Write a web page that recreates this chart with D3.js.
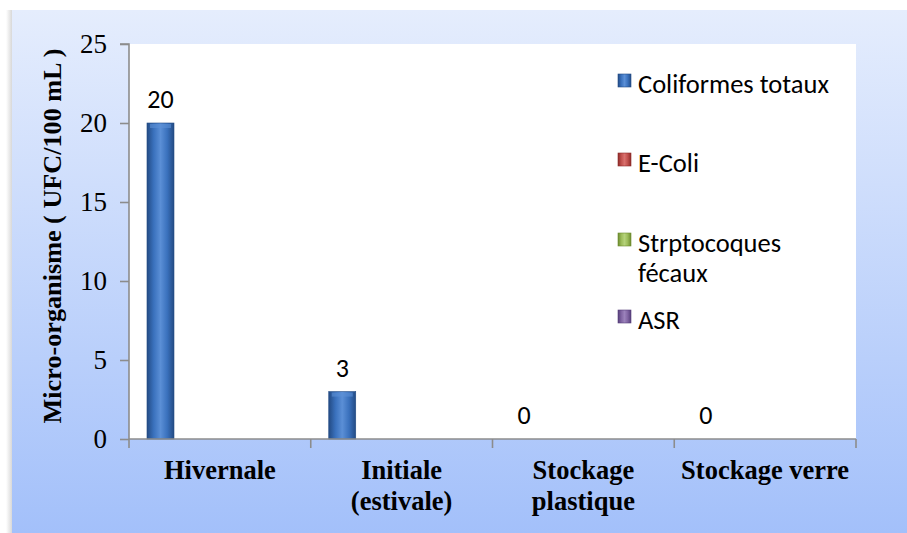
<!DOCTYPE html>
<html><head><meta charset="utf-8">
<script src="https://cdn.jsdelivr.net/npm/d3@7"></script>
<style>
html,body{margin:0;padding:0;background:#fff;}
svg{display:block;}
</style></head>
<body><svg id="c" width="907" height="533"></svg>
<script>
const categories = [["Hivernale"], ["Initiale", "(estivale)"], ["Stockage", "plastique"], ["Stockage verre"]];
const seriesNames = ["Coliformes totaux", "E-Coli", "Strptocoques fécaux", "ASR"];
const legendLines = [["Coliformes totaux"], ["E-Coli"], ["Strptocoques", "fécaux"], ["ASR"]];
const coliformes = [20, 3, 0, 0];
const eColi = [0, 0, 0, 0];
const streptocoques = [0, 0, 0, 0];
const asr = [0, 0, 0, 0];
const yTicks = [0, 5, 10, 15, 20, 25];
const yTitle = "Micro-organisme ( UFC/100 mL )";
const seriesValues = [coliformes, eColi, streptocoques, asr];
const colors = [
  {dark:"#234b84", mid:"#3a71bd", light:"#5b8fd6"},
  {dark:"#8c2b28", mid:"#c0504d", light:"#d9706d"},
  {dark:"#6b8a2e", mid:"#9bbb59", light:"#b5d27a"},
  {dark:"#563f7a", mid:"#8064a2", light:"#9b82bb"}
];

const svg = d3.select("#c");
const defs = svg.append("defs");

const bg = defs.append("linearGradient").attr("id","bg").attr("x1",0).attr("y1",0).attr("x2",0).attr("y2",1);
bg.append("stop").attr("offset","0%").attr("stop-color","#e5edfd");
bg.append("stop").attr("offset","100%").attr("stop-color","#a3c0fa");
const sh = defs.append("linearGradient").attr("id","sh").attr("x1",0).attr("y1",0).attr("x2",1).attr("y2",0);
sh.append("stop").attr("offset","0%").attr("stop-color","#ffffff");
sh.append("stop").attr("offset","100%").attr("stop-color","#d8d8d8");

colors.forEach((c,i)=>{
  const g = defs.append("linearGradient").attr("id","bar"+i).attr("x1",0).attr("y1",0).attr("x2",1).attr("y2",0);
  g.append("stop").attr("offset","0%").attr("stop-color",c.dark);
  g.append("stop").attr("offset","25%").attr("stop-color",c.mid);
  g.append("stop").attr("offset","50%").attr("stop-color",c.light);
  g.append("stop").attr("offset","75%").attr("stop-color",c.mid);
  g.append("stop").attr("offset","100%").attr("stop-color",c.dark);
});

svg.append("rect").attr("x",6).attr("y",10).attr("width",6).attr("height",523).attr("fill","url(#sh)");
svg.append("rect").attr("x",12).attr("y",10).attr("width",895).attr("height",523).attr("fill","url(#bg)");

const plot = {left:129, top:44, right:856, bottom:439};
svg.append("rect").attr("x",plot.left).attr("y",plot.top)
  .attr("width",plot.right-plot.left).attr("height",plot.bottom-plot.top).attr("fill","#fff");

const x0 = d3.scaleBand().domain(d3.range(categories.length)).range([plot.left, plot.right]).padding(0);
const x1 = d3.scaleBand().domain(d3.range(seriesNames.length)).range([0, x0.bandwidth()])
  .paddingInner(0.318).paddingOuter(0.4545);
const y = d3.scaleLinear().domain([0,25]).range([plot.bottom, plot.top]);

seriesValues.forEach((vals, s)=>{
  const pos = vals.map((d,i)=>({d,i})).filter(o=>o.d>0);
  svg.append("g").selectAll("rect").data(pos).join("rect")
    .attr("x",o=>x0(o.i)+x1(s))
    .attr("y",o=>y(o.d))
    .attr("width",x1.bandwidth())
    .attr("height",o=>plot.bottom-y(o.d))
    .attr("fill","url(#bar"+s+")")
    .attr("stroke",colors[s].dark).attr("stroke-width",0.6);
  svg.append("g").selectAll("rect").data(pos).join("rect")
    .attr("x",o=>x0(o.i)+x1(s)+3)
    .attr("y",o=>y(o.d)+1)
    .attr("width",x1.bandwidth()-6)
    .attr("height",4)
    .attr("fill",colors[s].light).attr("opacity",0.6);
});

svg.append("g").selectAll("text").data(coliformes).join("text")
  .attr("x",(d,i)=>x0(i)+x1(0)+x1.bandwidth()/2)
  .attr("y",d=>y(d)-15)
  .attr("text-anchor","middle")
  .attr("font-family","Carlito, Lato, sans-serif")
  .attr("font-size",26)
  .attr("fill","#000")
  .text(d=>d);

const yAxis = svg.append("g").attr("transform",`translate(${plot.left},0)`)
  .call(d3.axisLeft(y).tickValues(yTicks).tickSize(9).tickPadding(13));
yAxis.select(".domain").attr("stroke","#8c8c8c").attr("stroke-width",1.6).attr("d",`M-9,${plot.top}H0V${plot.bottom}`);
yAxis.selectAll(".tick line").attr("stroke","#8c8c8c").attr("stroke-width",1.6);
yAxis.selectAll(".tick text").attr("font-family","'Liberation Serif', 'Times New Roman', serif")
  .attr("font-size",27).attr("fill","#000");

const xAxis = svg.append("g").attr("transform",`translate(0,${plot.bottom})`);
xAxis.append("line").attr("x1",plot.left).attr("x2",plot.right).attr("y1",0).attr("y2",0)
  .attr("stroke","#8c8c8c").attr("stroke-width",1.6);
const xTickPos = x0.domain().map(i=>x0(i)).concat([plot.right]);
xAxis.selectAll("line.t").data(xTickPos).join("line").attr("class","t")
  .attr("x1",d=>d).attr("x2",d=>d).attr("y1",0).attr("y2",9)
  .attr("stroke","#8c8c8c").attr("stroke-width",1.6);
const xl = svg.append("g").selectAll("text").data(categories).join("text")
  .attr("x",(d,i)=>x0(i)+x0.bandwidth()/2)
  .attr("y",479)
  .attr("text-anchor","middle")
  .attr("font-family","'Liberation Serif', 'Times New Roman', serif")
  .attr("font-weight","bold").attr("font-size",26.5).attr("fill","#000");
xl.each(function(d,i){
  const t = d3.select(this);
  d.forEach((line,k)=>{
    t.append("tspan").attr("x",x0(i)+x0.bandwidth()/2).attr("dy",k===0?0:31).text(line);
  });
});

svg.append("text")
  .attr("transform","translate(61,236) rotate(-90)")
  .attr("text-anchor","middle")
  .attr("font-family","'Liberation Serif', 'Times New Roman', serif")
  .attr("font-weight","bold").attr("font-size",26.2).attr("fill","#000")
  .text(yTitle);

const legendY = [84, 163, 243, 320];
const lg = svg.append("g");
legendLines.forEach((lines,s)=>{
  const cy = legendY[s];
  lg.append("rect").attr("x",618).attr("y",cy-10).attr("width",13).attr("height",13)
    .attr("fill","url(#bar"+s+")").attr("stroke",colors[s].dark).attr("stroke-width",0.6);
  const t = lg.append("text").attr("x",638).attr("y",cy+9)
    .attr("font-family","Carlito, Lato, sans-serif").attr("font-size",26.5).attr("fill","#000");
  lines.forEach((ln,k)=>{
    t.append("tspan").attr("x",638).attr("dy",k===0?0:30).text(ln);
  });
});
</script></body></html>
